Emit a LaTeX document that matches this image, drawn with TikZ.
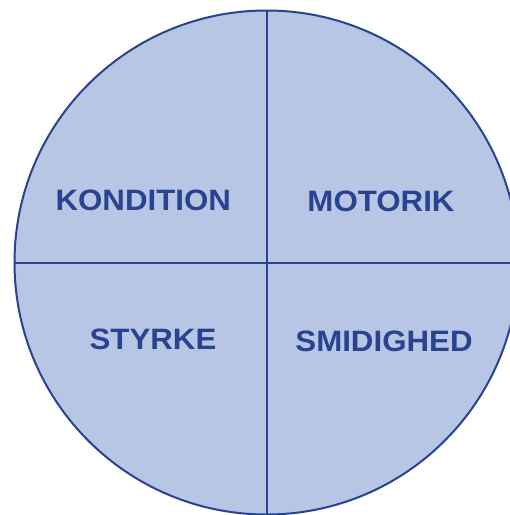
\documentclass[tikz,border=0pt]{standalone}
\usepackage{fontspec}
\setmainfont{Liberation Sans}
\newfontfamily\labfont[FakeStretch=1.06]{Liberation Sans}
\definecolor{fillblue}{HTML}{B8C6E5}
\definecolor{lineblue}{HTML}{2A4391}
\begin{document}
\begin{tikzpicture}[x=1pt,y=-1pt,
  disc/.style={circle,draw=lineblue,fill=fillblue,line width=2pt,minimum size=504pt,inner sep=0pt},
  divider/.style={draw=lineblue,line width=2pt},
  lab/.style={anchor=base,text=lineblue,inner sep=0pt,font=\labfont\bfseries\fontsize{29.5}{30}\selectfont}]
\useasboundingbox (0,0) rectangle (510,515);
\clip (0,0) rectangle (510,515);
\node[disc] (c) at (266.5,262.5) {};
\draw[divider] (c.north) -- (c.south);
\draw[divider] (c.west) -- (c.east);
\node[lab] (k) at (143.3,210) {KONDITION};
\node[lab] (m) at (381,211) {MOTORIK};
\node[lab] (s) at (153,349) {STYRKE};
\node[lab] (g) at (384,351) {SMIDIGHED};
\end{tikzpicture}
\end{document}
